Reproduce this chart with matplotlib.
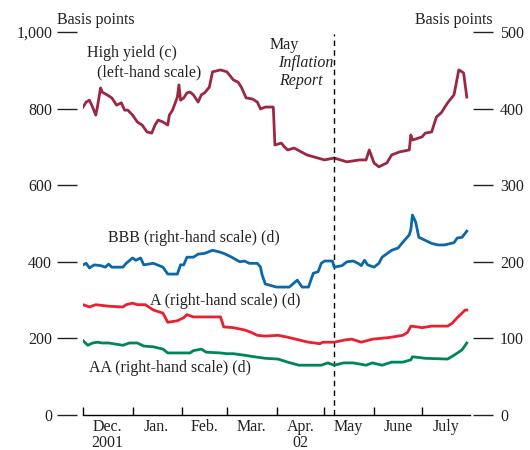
import pandas as pd
import matplotlib
matplotlib.use("Agg")
import matplotlib.pyplot as plt
import matplotlib.dates as mdates

plt.rcParams['font.family'] = ['Liberation Serif', 'DejaVu Serif']

# High yield spread, left-hand scale (basis points)
hy_dates = ['2001-12-01', '2001-12-03', '2001-12-05', '2001-12-07', '2001-12-09', '2001-12-10',
            '2001-12-12', '2001-12-13', '2001-12-16', '2001-12-19', '2001-12-22', '2001-12-25',
            '2001-12-27', '2001-12-29', '2002-01-01', '2002-01-04', '2002-01-07', '2002-01-10',
            '2002-01-13', '2002-01-15', '2002-01-17', '2002-01-20', '2002-01-23', '2002-01-24',
            '2002-01-26', '2002-01-29', '2002-01-30', '2002-01-31', '2002-02-02', '2002-02-04',
            '2002-02-06', '2002-02-08', '2002-02-11', '2002-02-13', '2002-02-15', '2002-02-18',
            '2002-02-20', '2002-02-25', '2002-03-01', '2002-03-05', '2002-03-08', '2002-03-10',
            '2002-03-13', '2002-03-17', '2002-03-20', '2002-03-22', '2002-03-25', '2002-03-30',
            '2002-03-31', '2002-04-04', '2002-04-06', '2002-04-08', '2002-04-12', '2002-04-20',
            '2002-05-01', '2002-05-07', '2002-05-15', '2002-05-23', '2002-05-27', '2002-05-29',
            '2002-06-01', '2002-06-04', '2002-06-09', '2002-06-12', '2002-06-17', '2002-06-23',
            '2002-06-24', '2002-06-25', '2002-07-01', '2002-07-03', '2002-07-07', '2002-07-10',
            '2002-07-13', '2002-07-17', '2002-07-21', '2002-07-24', '2002-07-26', '2002-07-27',
            '2002-07-29']
hy_vals = [804, 817, 822, 804, 783, 804,
           854, 843, 836, 828, 809, 815,
           796, 796, 783, 765, 757, 739,
           736, 757, 770, 765, 757, 783,
           796, 830, 862, 822, 828, 841,
           843, 836, 817, 836, 841, 856,
           896, 901, 896, 875, 869, 856,
           828, 825, 817, 799, 804, 804,
           705, 710, 700, 692, 697, 679,
           666, 671, 661, 666, 666, 692,
           658, 648, 658, 679, 687, 692,
           731, 718, 726, 736, 739, 778,
           789, 815, 836, 901, 896, 893,
           830]

# BBB spread, right-hand scale
bbb_dates = ['2001-12-01', '2001-12-03', '2001-12-05', '2001-12-08', '2001-12-12', '2001-12-15',
             '2001-12-17', '2001-12-19', '2001-12-26', '2001-12-28', '2002-01-01', '2002-01-03',
             '2002-01-06', '2002-01-08', '2002-01-14', '2002-01-20', '2002-01-23', '2002-01-29',
             '2002-01-31', '2002-02-02', '2002-02-04', '2002-02-08', '2002-02-11', '2002-02-15',
             '2002-02-20', '2002-02-24', '2002-02-27', '2002-03-04', '2002-03-09', '2002-03-12',
             '2002-03-15', '2002-03-20', '2002-03-22', '2002-03-23', '2002-03-25', '2002-04-01',
             '2002-04-09', '2002-04-14', '2002-04-17', '2002-04-21', '2002-04-24', '2002-04-27',
             '2002-04-29', '2002-05-01', '2002-05-06', '2002-05-07', '2002-05-12', '2002-05-15',
             '2002-05-19', '2002-05-22', '2002-05-24', '2002-05-26', '2002-05-28', '2002-06-01',
             '2002-06-04', '2002-06-06', '2002-06-12', '2002-06-16', '2002-06-20', '2002-06-23',
             '2002-06-24', '2002-06-25', '2002-06-27', '2002-06-29', '2002-07-03', '2002-07-07',
             '2002-07-11', '2002-07-15', '2002-07-21', '2002-07-23', '2002-07-26', '2002-07-29']
bbb_vals = [196, 198, 192, 196, 195, 193,
            197, 193, 193, 198, 205, 202,
            205, 196, 198, 193, 184, 184,
            196, 196, 206, 206, 210, 211,
            215, 213, 211, 206, 200, 201,
            198, 198, 193, 183, 171, 167,
            167, 176, 167, 167, 185, 187,
            198, 201, 201, 193, 195, 200,
            201, 198, 195, 202, 196, 193,
            198, 206, 215, 218, 228, 235,
            242, 261, 252, 232, 228, 224,
            222, 222, 225, 231, 232, 240]

# A spread, right-hand scale
a_dates = ['2001-12-01', '2001-12-05', '2001-12-09', '2001-12-17', '2001-12-26', '2001-12-28',
           '2002-01-01', '2002-01-04', '2002-01-09', '2002-01-14', '2002-01-20', '2002-01-23',
           '2002-01-29', '2002-02-02', '2002-02-04', '2002-02-08', '2002-02-12', '2002-02-17',
           '2002-02-25', '2002-02-27', '2002-03-05', '2002-03-12', '2002-03-16', '2002-03-20',
           '2002-03-25', '2002-04-02', '2002-04-07', '2002-04-13', '2002-04-21', '2002-04-25',
           '2002-04-28', '2002-04-30', '2002-05-07', '2002-05-14', '2002-05-18', '2002-05-24',
           '2002-05-31', '2002-06-10', '2002-06-19', '2002-06-22', '2002-06-24', '2002-06-28',
           '2002-07-01', '2002-07-07', '2002-07-17', '2002-07-20', '2002-07-23', '2002-07-26',
           '2002-07-28', '2002-07-29']
a_vals = [144, 141, 144, 142, 141, 144,
          146, 144, 144, 137, 133, 121,
          123, 127, 131, 128, 128, 128,
          128, 115, 114, 111, 108, 104,
          103, 104, 102, 99, 95, 94,
          93, 95, 95, 98, 99, 95,
          99, 101, 104, 108, 116, 115,
          114, 116, 116, 120, 127, 133,
          137, 137]

# AA spread, right-hand scale
aa_dates = ['2001-12-01', '2001-12-04', '2001-12-07', '2001-12-10', '2001-12-13', '2001-12-17',
            '2001-12-26', '2001-12-30', '2002-01-04', '2002-01-08', '2002-01-14', '2002-01-20',
            '2002-01-23', '2002-02-02', '2002-02-06', '2002-02-08', '2002-02-13', '2002-02-16',
            '2002-02-25', '2002-03-01', '2002-03-05', '2002-03-12', '2002-03-18', '2002-03-25',
            '2002-04-02', '2002-04-08', '2002-04-15', '2002-04-21', '2002-04-29', '2002-05-03',
            '2002-05-07', '2002-05-13', '2002-05-19', '2002-05-27', '2002-05-31', '2002-06-06',
            '2002-06-12', '2002-06-19', '2002-06-24', '2002-06-25', '2002-07-03', '2002-07-17',
            '2002-07-21', '2002-07-26', '2002-07-28', '2002-07-29']
aa_vals = [97, 91, 94, 95, 94, 94,
           91, 94, 94, 90, 89, 86,
           81, 81, 81, 84, 86, 82,
           81, 80, 80, 78, 76, 74,
           73, 69, 65, 65, 65, 68,
           65, 68, 68, 65, 68, 65,
           69, 69, 72, 76, 74, 73,
           78, 85, 91, 94]

month_ticks = ['2001-12-01', '2002-01-01', '2002-02-01', '2002-03-01', '2002-04-01',
               '2002-05-01', '2002-06-01', '2002-07-01']
month_label_pos = ['2001-12-16', '2002-01-16', '2002-02-15', '2002-03-16', '2002-04-16',
                   '2002-05-16', '2002-06-16', '2002-07-16']
month_labels = ['Dec.\n2001', 'Jan.', 'Feb.', 'Mar.', 'Apr.\n02', 'May', 'June', 'July']
report_date = '2002-05-07'

FS = 11.5
fig = plt.figure(figsize=(5.3, 4.5), dpi=100)
ax = fig.add_axes([0.1566, 0.0778, 0.7302, 0.8511])
ax2 = ax.twinx()

ax.plot(pd.to_datetime(hy_dates), hy_vals, color='#9B2742', lw=2)
ax2.plot(pd.to_datetime(bbb_dates), bbb_vals, color='#0B68A8', lw=2)
ax2.plot(pd.to_datetime(a_dates), a_vals, color='#E8202F', lw=2)
ax2.plot(pd.to_datetime(aa_dates), aa_vals, color='#00855A', lw=2)

ax.axvline(pd.Timestamp(report_date), ymax=0.995, color='black', lw=1, ls=(0, (4, 3)))

ax.set_xlim(pd.Timestamp('2001-12-01'), pd.Timestamp('2002-07-31'))
ax.set_ylim(0, 1000)
ax2.set_ylim(0, 500)

for a in (ax, ax2):
    for s in ('top', 'left', 'right'):
        a.spines[s].set_visible(False)
ax2.spines['bottom'].set_visible(False)
ax.spines['bottom'].set_linewidth(1)

ax.spines['left'].set_position(('outward', 4.3))
ax2.spines['right'].set_position(('outward', 2.2))

ax.set_yticks([0, 200, 400, 600, 800, 1000])
ax.set_yticklabels(['0', '200', '400', '600', '800', '1,000'])
ax.tick_params(axis='y', length=14.4, width=1, pad=3.5, labelsize=FS, colors='#222222')
ax2.set_yticks([0, 100, 200, 300, 400, 500])
ax2.tick_params(axis='y', length=14.4, width=1, pad=5, labelsize=FS, colors='#222222')

ax.set_xticks(pd.to_datetime(month_ticks))
ax.set_xticklabels([])
ax.set_xticks(pd.to_datetime(month_label_pos), minor=True)
ax.set_xticklabels(month_labels, minor=True)
ax.tick_params(axis='x', which='major', direction='in', length=5.5, width=1)
ax.tick_params(axis='x', which='minor', length=0, pad=3, labelsize=FS, colors='#222222')
for lbl in ax.get_xticklabels(minor=True):
    lbl.set_linespacing(0.95)

txt = dict(fontsize=FS, color='#222222', transform=fig.transFigure)
fig.text(57 / 530, 1 - 20 / 450, 'Basis points', ha='left', va='center', **txt)
fig.text(493 / 530, 1 - 20 / 450, 'Basis points', ha='right', va='center', **txt)
fig.text(87 / 530, 1 - 53 / 450, 'High yield (c)', ha='left', va='center', **txt)
fig.text(97 / 530, 1 - 72 / 450, '(left-hand scale)', ha='left', va='center', **txt)
fig.text(270 / 530, 1 - 45 / 450, 'May', ha='left', va='center', **txt)
fig.text(278 / 530, 1 - 63 / 450, 'Inflation', ha='left', va='center', style='italic', **txt)
fig.text(279 / 530, 1 - 81 / 450, 'Report', ha='left', va='center', style='italic', **txt)
fig.text(108 / 530, 1 - 238 / 450, 'BBB (right-hand scale) (d)', ha='left', va='center', **txt)
fig.text(150 / 530, 1 - 301 / 450, 'A (right-hand scale) (d)', ha='left', va='center', **txt)
fig.text(89 / 530, 1 - 368 / 450, 'AA (right-hand scale) (d)', ha='left', va='center', **txt)

fig.savefig('out.png', dpi=100)
